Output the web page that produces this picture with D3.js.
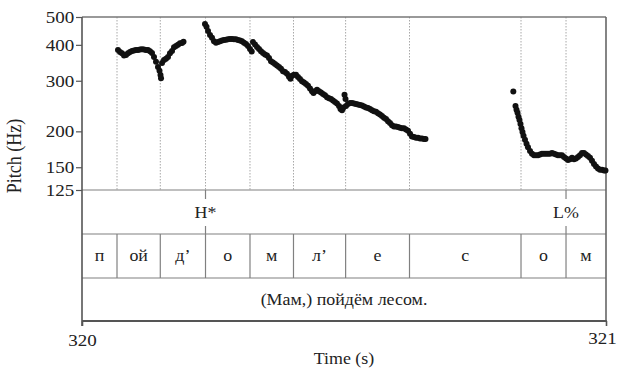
<!DOCTYPE html>
<html><head><meta charset="utf-8">
<script src="https://cdn.jsdelivr.net/npm/d3@7"></script>
<style>
html,body{margin:0;padding:0;background:#fff;}
svg{display:block;}
svg text{font-family:"Liberation Serif","Times New Roman",serif !important;fill:#222;}
</style></head>
<body>
<svg id="chart" width="620" height="369"></svg>
<script>
// ---- data ----
const timeDomain = [320, 321];
const timeTicks = [320, 321];
const pitchDomain = [125, 500];
const pitchTicks = [125, 150, 200, 300, 400, 500];
const boundaryTimes = [320.0668, 320.1494, 320.2357, 320.3206, 320.4036, 320.5031, 320.6250, 320.8378, 320.9237];
const segmentLabels = ["п", "ой", "д’", "о", "м", "л’", "е", "с", "о", "м"];
const toneTimes = [320.2357, 320.9237];
const toneLabels = ["H*", "L%"];
const wordLabel = "(Мам,) пойдём лесом.";
const contour1 = [
  [320.0687,384],[320.0725,378],[320.0763,374],[320.0802,367],[320.0840,369],[320.0878,374],
  [320.0916,378],[320.0954,381],[320.0992,382],[320.1031,384],[320.1069,384],[320.1107,385],
  [320.1145,386],[320.1183,385],[320.1221,384],[320.1260,384],[320.1298,380],[320.1336,375],
  [320.1374,363],[320.1412,349],[320.1450,335],[320.1479,325],[320.1498,314],[320.1508,306],
  [320.1527,346],[320.1565,354],[320.1603,358],[320.1641,363],[320.1679,374],[320.1718,381],
  [320.1756,392],[320.1794,396],[320.1832,400],[320.1870,405],[320.1908,406],[320.1937,410]
];
const contour2 = [
  [320.2347,473],[320.2376,462],[320.2405,447],[320.2443,433],[320.2481,423],[320.2519,412],
  [320.2557,407],[320.2595,409],[320.2634,412],[320.2672,414],[320.2710,416],[320.2748,417],
  [320.2786,418],[320.2824,419],[320.2863,419],[320.2901,418],[320.2939,418],[320.2977,416],
  [320.3015,414],[320.3053,412],[320.3092,407],[320.3130,403],[320.3168,396],[320.3206,387],
  [320.3239,379],[320.3263,409],[320.3302,401],[320.3340,393],[320.3378,387],[320.3416,380],
  [320.3454,375],[320.3492,370],[320.3531,367],[320.3569,360],[320.3607,351],[320.3645,347],
  [320.3683,343],[320.3721,339],[320.3760,335],[320.3798,330],[320.3836,324],[320.3874,322],
  [320.3912,317],[320.3950,310],[320.3979,305],[320.4008,312],[320.4046,315],[320.4084,315],
  [320.4122,309],[320.4160,304],[320.4198,299],[320.4237,296],[320.4275,292],[320.4313,288],
  [320.4351,282],[320.4389,276],[320.4418,272],[320.4447,276],[320.4485,279],[320.4523,276],
  [320.4561,273],[320.4599,270],[320.4637,267],[320.4676,263],[320.4714,261],[320.4752,259],
  [320.4790,256],[320.4828,253],[320.4866,250],[320.4905,245],[320.4933,239],[320.4962,237],
  [320.4990,242],[320.5010,268],[320.5029,259],[320.5038,245],[320.5076,249],[320.5115,251],
  [320.5153,251],[320.5191,250],[320.5229,249],[320.5267,248],[320.5305,247],[320.5344,246],
  [320.5382,244],[320.5420,242],[320.5458,241],[320.5496,239],[320.5534,237],[320.5573,235],
  [320.5611,234],[320.5649,231],[320.5687,229],[320.5725,226],[320.5763,223],[320.5802,221],
  [320.5840,217],[320.5878,214],[320.5916,210],[320.5954,208],[320.5992,208],[320.6031,207],
  [320.6069,206],[320.6107,205],[320.6145,205],[320.6183,203],[320.6221,201],[320.6260,196],
  [320.6298,192],[320.6336,191],[320.6374,190],[320.6412,190],[320.6450,189],[320.6489,189],
  [320.6527,188],[320.6555,188]
];
const contour3 = [
  [320.8231,275],[320.8273,245],[320.8292,238],[320.8311,232],[320.8330,225],[320.8349,219],
  [320.8368,212],[320.8387,205],[320.8406,199],[320.8426,193],[320.8454,187],[320.8483,181],
  [320.8511,176],[320.8550,171],[320.8588,167],[320.8626,165],[320.8664,165],[320.8702,165],
  [320.8740,166],[320.8779,167],[320.8817,167],[320.8855,167],[320.8893,167],[320.8931,167],
  [320.8969,168],[320.9008,167],[320.9046,166],[320.9084,165],[320.9122,165],[320.9160,165],
  [320.9198,163],[320.9237,161],[320.9275,159],[320.9313,160],[320.9351,162],[320.9389,160],
  [320.9427,161],[320.9466,163],[320.9504,165],[320.9542,168],[320.9580,168],[320.9618,166],
  [320.9656,164],[320.9695,162],[320.9733,158],[320.9771,154],[320.9809,151],[320.9847,148.5],
  [320.9885,147],[320.9924,147],[320.9962,146],[320.9990,146]
];

// ---- layout ----
const L = 82, R = 606, T = 17;
const yPitchBottom = 190, yToneBottom = 234, ySegBottom = 278, yWordBottom = 321;
const SX = 1.12; // horizontal stretch of glyphs as in reference
const FONT = "Liberation Serif, serif";

const svg = d3.select("#chart");
const x = d3.scaleLinear().domain(timeDomain).range([L, R]);
const y = d3.scaleLog().domain(pitchDomain).range([yPitchBottom, T]);

function stretchText(sel, tx, ty) {
  sel.attr("transform", `translate(${tx},${ty}) scale(${SX},1)`);
}

// dotted boundary lines in pitch panel
svg.append("g").selectAll("line").data(boundaryTimes).join("line")
  .attr("x1", d => x(d)).attr("x2", d => x(d))
  .attr("y1", T).attr("y2", yPitchBottom)
  .attr("stroke", "#a8a8a8").attr("stroke-width", 1)
  .attr("stroke-dasharray", "1.5,1.5");

// horizontal tier lines
const gFrame = svg.append("g");
gFrame.append("line").attr("x1", L).attr("x2", R).attr("y1", T).attr("y2", T)
  .attr("stroke", "#777").attr("stroke-width", 1.3);
[yPitchBottom, yToneBottom, ySegBottom].forEach(yy => {
  gFrame.append("line").attr("x1", L).attr("x2", R).attr("y1", yy).attr("y2", yy)
    .attr("stroke", "#808080").attr("stroke-width", 1.2);
});
gFrame.append("line").attr("x1", R).attr("x2", R).attr("y1", T).attr("y2", yWordBottom)
  .attr("stroke", "#666").attr("stroke-width", 1.6);

// segment boundaries (solid in segment tier)
svg.append("g").selectAll("line").data(boundaryTimes).join("line")
  .attr("x1", d => x(d)).attr("x2", d => x(d))
  .attr("y1", yToneBottom).attr("y2", ySegBottom)
  .attr("stroke", "#808080").attr("stroke-width", 1.2);

// segment labels
const segEdges = [timeDomain[0], ...boundaryTimes, timeDomain[1]];
svg.append("g").selectAll("text").data(segmentLabels).join("text")
  .each(function(d, i) {
    stretchText(d3.select(this), (x(segEdges[i]) + x(segEdges[i + 1])) / 2, (yToneBottom + ySegBottom) / 2);
  })
  .attr("text-anchor", "middle").attr("dy", "0.32em").attr("font-family", FONT)
  .style("font-size", "16px").text(d => d);

// tone tier points
const gTone = svg.append("g");
toneTimes.forEach((t, i) => {
  gTone.append("line").attr("x1", x(t)).attr("x2", x(t)).attr("y1", yPitchBottom).attr("y2", yPitchBottom + 9)
    .attr("stroke", "#808080").attr("stroke-width", 1.2);
  gTone.append("line").attr("x1", x(t)).attr("x2", x(t)).attr("y1", yToneBottom - 8).attr("y2", yToneBottom)
    .attr("stroke", "#808080").attr("stroke-width", 1.2);
  const tx = gTone.append("text").attr("text-anchor", "middle").attr("dy", "0.35em").attr("font-family", FONT)
    .style("font-size", "16px").text(toneLabels[i]);
  stretchText(tx, x(t), 212);
});

// word tier
const wt = svg.append("text").attr("text-anchor", "middle").attr("dy", "0.32em").attr("font-family", FONT)
  .style("font-size", "16px").text(wordLabel);
stretchText(wt, (x(timeDomain[0]) + x(timeDomain[1])) / 2, (ySegBottom + yWordBottom) / 2);

// pitch points
const gPts = svg.append("g");
[contour1, contour2, contour3].forEach(c => {
  gPts.selectAll(null).data(c).join("circle")
    .attr("cx", d => x(d[0])).attr("cy", d => y(d[1])).attr("r", 3)
    .attr("fill", "#111");
});

// left axis
const yAxis = svg.append("g").attr("transform", `translate(${L},0)`)
  .call(d3.axisLeft(y).tickValues(pitchTicks).tickFormat(d3.format("d")).tickSize(6).tickPadding(1));
yAxis.attr("font-family", FONT).attr("font-size", 17);
yAxis.select(".domain").remove();
yAxis.selectAll(".tick line").attr("stroke", "#555").attr("stroke-width", 1.2);
yAxis.selectAll(".tick text").attr("fill", "#222").attr("transform", `scale(${SX},1)`);
svg.append("line").attr("x1", L).attr("x2", L).attr("y1", T).attr("y2", yWordBottom + 5)
  .attr("stroke", "#555").attr("stroke-width", 1.6);

// bottom axis
const xAxis = svg.append("g").attr("transform", `translate(0,${yWordBottom})`)
  .call(d3.axisBottom(x).tickValues(timeTicks).tickFormat(d3.format("d")).tickSize(5).tickPadding(8));
xAxis.attr("font-family", FONT).attr("font-size", 17);
xAxis.select(".domain").remove();
xAxis.selectAll(".tick line").attr("stroke", "#555").attr("stroke-width", 1.6);
xAxis.selectAll(".tick text").attr("fill", "#222")
  .attr("transform", (d, i) => i === 1 ? `translate(-4,-2) scale(${SX},1)` : `scale(${SX},1)`);
svg.append("line").attr("x1", L).attr("x2", R + 0.8).attr("y1", yWordBottom).attr("y2", yWordBottom)
  .attr("stroke", "#555").attr("stroke-width", 2);

// axis titles
const xt = svg.append("text").attr("text-anchor", "middle").attr("font-family", FONT)
  .style("font-size", "16px").text("Time (s)");
stretchText(xt, (L + R) / 2, 364);
svg.append("text").attr("text-anchor", "middle").attr("font-family", FONT)
  .attr("transform", `translate(15,156) rotate(-90) scale(1,${SX})`)
  .attr("dy", "0.32em").style("font-size", "18px").text("Pitch (Hz)");
</script>
</body></html>
